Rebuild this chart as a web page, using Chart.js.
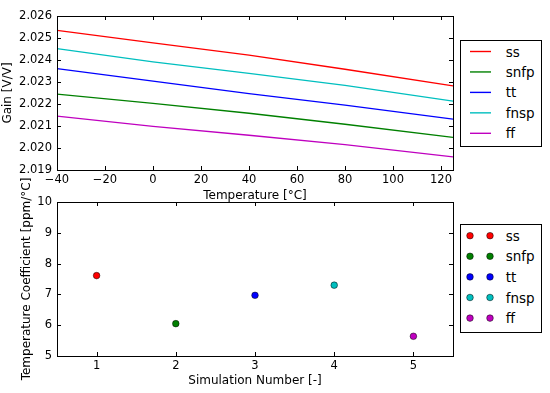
<!DOCTYPE html>
<html><head><meta charset="utf-8">
<script src="https://cdn.jsdelivr.net/npm/chart.js@4/dist/chart.umd.min.js"></script>
<style>
html,body{margin:0;padding:0;background:#fff;}
body{width:550px;height:393px;position:relative;overflow:hidden;font-family:'DejaVu Sans',sans-serif;}
canvas{position:absolute;left:0;}
#c1{top:0;}
#c2{top:165px;}
.legend{position:absolute;box-sizing:border-box;border:1px solid #000;background:#fff;width:82px;}
.lbl{position:absolute;left:44.7px;height:20px;line-height:20px;font-size:13.5px;color:#000;white-space:nowrap;}
.smp{position:absolute;left:0;top:0;}
</style></head>
<body>
<canvas id="c1" width="550" height="205"></canvas>
<canvas id="c2" width="550" height="228"></canvas>
<div id="leg1" class="legend" style="left:460px;top:40px;height:107px;"></div>
<div id="leg2" class="legend" style="left:460px;top:224px;height:109px;"></div>
<script>
// ---- data ----
const seriesNames = ['ss', 'snfp', 'tt', 'fnsp', 'ff'];
const seriesColors = ['#ff0000', '#008000', '#0000ff', '#00bfbf', '#bf00bf'];
const temperatures = [-40, 0, 40, 80, 125];
const gainSS   = [2.02535, 2.02478, 2.02422, 2.02358, 2.02282];
const gainSNFP = [2.02245, 2.02203, 2.02158, 2.02108, 2.02048];
const gainTT   = [2.02361, 2.02304, 2.02247, 2.02195, 2.02131];
const gainFNSP = [2.02452, 2.02391, 2.02339, 2.02285, 2.02213];
const gainFF   = [2.02145, 2.02098, 2.02058, 2.02015, 2.01960];
const simNumbers = [1, 2, 3, 4, 5];
const tempCoeffs = [7.61, 6.05, 6.97, 7.30, 5.64];
const tempTicks = [-40, -20, 0, 20, 40, 60, 80, 100, 120];
const gainTicks = [2.019, 2.020, 2.021, 2.022, 2.023, 2.024, 2.025, 2.026];
const simTicks = [1, 2, 3, 4, 5];
const coeffTicks = [5, 6, 7, 8, 9, 10];

Chart.defaults.font.family = "'DejaVu Sans', sans-serif";
Chart.defaults.color = '#000';

const TICKFONT = {size: 11.5};
const TITLEFONT = {size: 12, lineHeight: 1.2};

const framePlugin = {
  id: 'frame',
  afterDraw(chart) {
    const {ctx, chartArea: a, scales: {x, y}} = chart;
    ctx.save();
    ctx.strokeStyle = '#000';
    ctx.lineWidth = 1;
    ctx.beginPath();
    x.ticks.forEach(t => {
      const px = Math.round(x.getPixelForValue(t.value)) + 0.5;
      ctx.moveTo(px, a.bottom); ctx.lineTo(px, a.bottom - 4);
      ctx.moveTo(px, a.top); ctx.lineTo(px, a.top + 4);
    });
    y.ticks.forEach(t => {
      const py = Math.round(y.getPixelForValue(t.value)) + 0.5;
      ctx.moveTo(a.left, py); ctx.lineTo(a.left + 4, py);
      ctx.moveTo(a.right, py); ctx.lineTo(a.right - 4, py);
    });
    ctx.stroke();
    ctx.strokeRect(a.left + 0.5, a.top + 0.5, a.right - a.left, a.bottom - a.top);
    ctx.restore();
    const yt = chart.options.plugins.frame && chart.options.plugins.frame.yTitle;
    if (yt) {
      ctx.save();
      ctx.translate(yt.x, (a.top + a.bottom) / 2);
      ctx.rotate(-Math.PI / 2);
      ctx.font = "12px 'DejaVu Sans'";
      ctx.fillStyle = '#000';
      ctx.textAlign = 'center';
      ctx.textBaseline = 'middle';
      ctx.fillText(yt.text, 0, 0);
      ctx.restore();
    }
  }
};

const minus = v => String(v).replace('-', '\u2212');

const gains = [gainSS, gainSNFP, gainTT, gainFNSP, gainFF];
new Chart(document.getElementById('c1'), {
  type: 'line',
  data: {
    datasets: seriesNames.map((n, i) => ({
      label: n,
      data: temperatures.map((t, j) => ({x: t, y: gains[i][j]})),
      borderColor: seriesColors[i],
      backgroundColor: seriesColors[i],
      borderWidth: 1.3,
      pointRadius: 0,
      tension: 0,
      fill: false
    }))
  },
  options: {
    responsive: false,
    animation: false,
    layout: {padding: {left: 0, top: 16, right: 97, bottom: 0}},
    plugins: {legend: {display: false}, tooltip: {enabled: false}},
    scales: {
      x: {
        type: 'linear', min: -40, max: 125,
        afterBuildTicks: s => { s.ticks = tempTicks.map(v => ({value: v})); },
        afterFit: s => { s.height = 35; },
        grid: {display: false, drawTicks: false},
        border: {display: false},
        ticks: {font: TICKFONT, padding: 3.5, maxRotation: 0, autoSkip: false, callback: v => minus(v)},
        title: {display: true, text: 'Temperature [°C]', font: TITLEFONT, padding: {top: 0, bottom: 2}}
      },
      y: {
        type: 'linear', min: 2.019, max: 2.026,
        afterBuildTicks: s => { s.ticks = gainTicks.map(v => ({value: v})); },
        afterFit: s => { s.width = 57; },
        grid: {display: false, drawTicks: false},
        border: {display: false},
        ticks: {font: TICKFONT, padding: 5, autoSkip: false, callback: v => Number(v).toFixed(3)},
        title: {display: true, text: 'Gain [V/V]', font: TITLEFONT, padding: {top: 1, bottom: 0}}
      }
    }
  },
  plugins: [framePlugin]
});

new Chart(document.getElementById('c2'), {
  type: 'scatter',
  data: {
    datasets: seriesNames.map((n, i) => ({
      label: n,
      data: [{x: simNumbers[i], y: tempCoeffs[i]}],
      backgroundColor: seriesColors[i],
      borderColor: '#000',
      borderWidth: 0.5,
      pointRadius: 3.3
    }))
  },
  options: {
    responsive: false,
    animation: false,
    layout: {padding: {left: 0, top: 37, right: 97, bottom: 0}},
    plugins: {legend: {display: false}, tooltip: {enabled: false},
      frame: {yTitle: {text: 'Temperature Coefficient [ppm/°C]', x: 27}}},
    scales: {
      x: {
        type: 'linear', min: 0.5, max: 5.5,
        afterBuildTicks: s => { s.ticks = simTicks.map(v => ({value: v})); },
        afterFit: s => { s.height = 37; },
        grid: {display: false, drawTicks: false},
        border: {display: false},
        ticks: {font: TICKFONT, padding: 3.5, maxRotation: 0, autoSkip: false},
        title: {display: true, text: 'Simulation Number [-]', font: TITLEFONT, padding: {top: 0, bottom: 5}}
      },
      y: {
        type: 'linear', min: 5, max: 10,
        afterBuildTicks: s => { s.ticks = coeffTicks.map(v => ({value: v})); },
        afterFit: s => { s.width = 57; },
        grid: {display: false, drawTicks: false},
        border: {display: false},
        ticks: {font: TICKFONT, padding: 5, autoSkip: false},
        title: {display: false}
      }
    }
  },
  plugins: [framePlugin]
});

// ---- HTML legends ----
const SVGNS = 'http://www.w3.org/2000/svg';
function svgEl(tag, attrs) {
  const e = document.createElementNS(SVGNS, tag);
  for (const k in attrs) e.setAttribute(k, attrs[k]);
  return e;
}
const leg1 = document.getElementById('leg1');
const leg2 = document.getElementById('leg2');
const s1 = svgEl('svg', {width: 80, height: 105, class: 'smp'});
const s2 = svgEl('svg', {width: 80, height: 107, class: 'smp'});
leg1.appendChild(s1);
leg2.appendChild(s2);
seriesNames.forEach((n, i) => {
  const c1 = 10.5 + i * 20.45;
  s1.appendChild(svgEl('line', {x1: 9, x2: 30, y1: c1, y2: c1, stroke: seriesColors[i], 'stroke-width': 1.4}));
  const t1 = document.createElement('div');
  t1.className = 'lbl'; t1.textContent = n; t1.style.top = (c1 - 10) + 'px';
  leg1.appendChild(t1);

  const c2 = 10.7 + i * 20.6;
  [9, 29].forEach(cx => {
    s2.appendChild(svgEl('circle', {cx: cx, cy: c2, r: 3.3, fill: seriesColors[i], stroke: '#000', 'stroke-width': 0.5}));
  });
  const t2 = document.createElement('div');
  t2.className = 'lbl'; t2.textContent = n; t2.style.top = (c2 - 10) + 'px';
  leg2.appendChild(t2);
});
</script>
</body></html>
